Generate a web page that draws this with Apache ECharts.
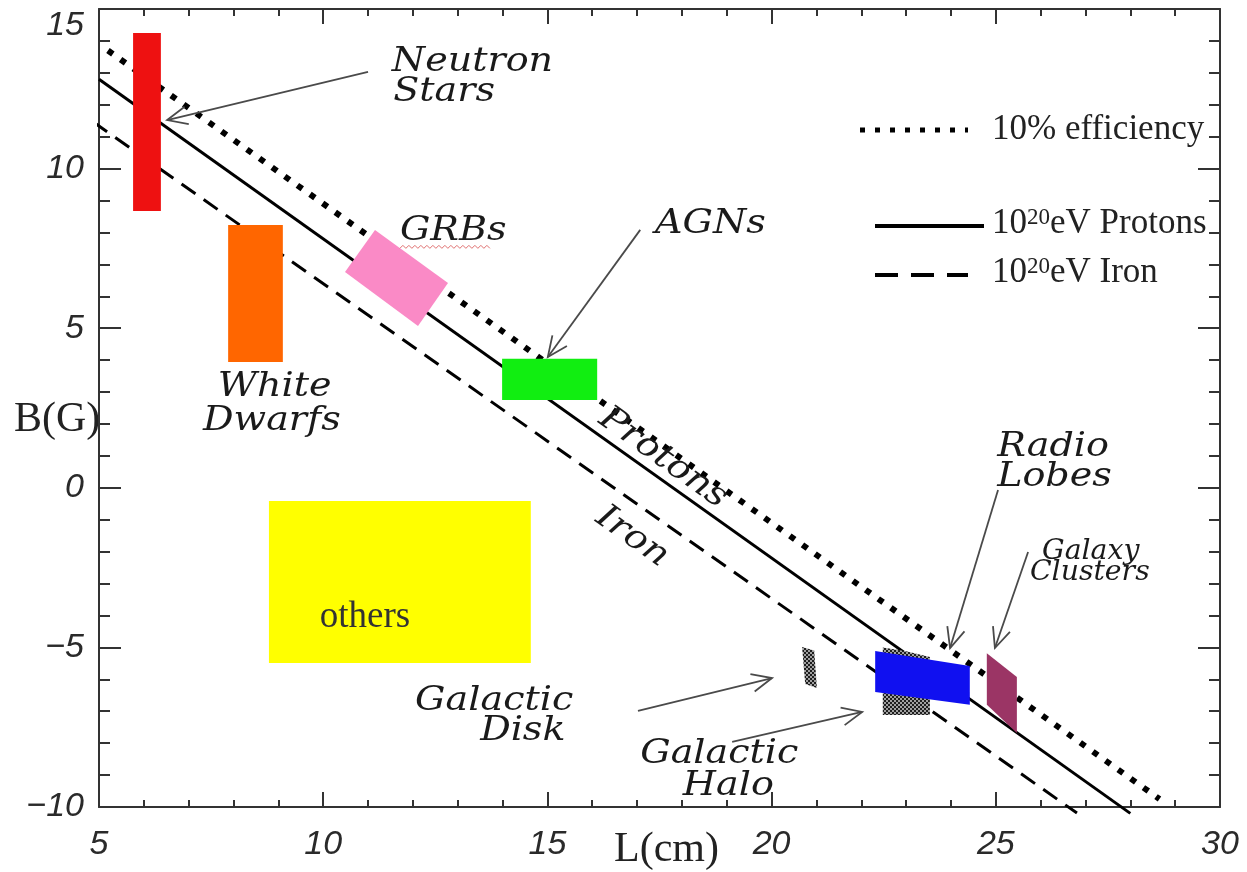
<!DOCTYPE html>
<html>
<head>
<meta charset="utf-8">
<script src="https://cdn.jsdelivr.net/npm/echarts@6/dist/echarts.min.js"></script>
<style>
html, body { margin: 0; padding: 0; background: #fff; }
#chart { width: 1247px; height: 872px; }
</style>
</head>
<body>
<div id="chart"></div>
<script>
// Axis ranges (log10 units)
const xRange = [5, 30];
const yRange = [-10, 15];
const majorStep = 5;

// Hillas-condition lines, end points as [L, B]
const efficiencyLine = [[5.2, 13.7], [28.65, -9.75]];
const protonLine = [[5.0, 12.8], [28.0, -10.2]];
const ironLine = [[4.87, 11.46], [26.81, -10.19]];

// Source classes and their regions (polygon corners as [L, B])
const regionNames = ['others', 'White Dwarfs', 'Neutron Stars', 'GRBs', 'AGNs',
  'Galactic Disk', 'Galactic Halo', 'Radio Lobes', 'Galaxy Clusters'];
const regionShapes = [
  [[8.79, -0.41], [14.63, -0.41], [14.63, -5.49], [8.79, -5.49]],
  [[7.88, 8.23], [9.10, 8.23], [9.10, 3.94], [7.88, 3.94]],
  [[5.76, 14.25], [6.38, 14.25], [6.38, 8.67], [5.76, 8.67]],
  [[11.155, 8.077], [12.783, 6.416], [12.114, 5.069], [10.486, 6.761]],
  [[13.99, 4.04], [16.11, 4.04], [16.11, 2.75], [13.99, 2.75]],
  [[20.68, -4.99], [20.95, -5.10], [21.01, -6.27], [20.75, -6.15]],
  [[22.48, -5.0], [23.0, -5.12], [23.53, -5.3], [23.53, -7.12], [22.48, -7.12]],
  [[22.31, -5.11], [24.42, -5.58], [24.42, -6.80], [22.31, -6.40]],
  [[24.80, -5.18], [25.47, -5.93], [25.47, -7.68], [24.80, -6.80]]
];

// Annotation arrows: [L0, B0, L1, B1] from text to tip
const arrowLines = [
  [11.00, 13.03, 6.52, 11.52],
  [17.07, 8.08, 15.01, 4.10],
  [25.05, -0.07, 23.98, -5.02],
  [25.72, -2.01, 24.98, -5.02],
  [17.02, -6.99, 20.01, -5.96],
  [19.12, -7.96, 22.02, -7.02]
];

// Class name labels and their anchors [L, B] (left edge, mid line)
const noteTexts = ['Neutron', 'Stars', 'White', 'Dwarfs', 'GRBs', 'AGNs', 'Radio', 'Lobes',
  'Galaxy', 'Clusters', 'Galactic', 'Disk', 'Galactic', 'Halo'];
const notePos = [[11.53, 13.34], [11.56, 12.40], [7.65, 3.16], [7.32, 2.09], [11.71, 8.05],
  [17.40, 8.26], [25.03, 1.28], [25.03, 0.34], [26.03, -2.01], [25.76, -2.67],
  [12.05, -6.68], [13.50, -7.62], [17.07, -8.34], [18.02, -9.34]];
const noteSmall = ['Galaxy', 'Clusters'];

// Labels running along the lines, centred at [L, B]
const lineTexts = ['Protons', 'Iron'];
const lineTextPos = [[17.58, 0.93], [16.89, -1.54]];

// Text inside the yellow box
const boxText = 'others';
const boxTextPos = [10.93, -4.05];

// Legend entries
const legendTexts = ['10% efficiency', 'Protons', 'Iron'];

const regionFill = (function () {
  const c = document.createElement('canvas');
  c.width = 4; c.height = 4;
  const g = c.getContext('2d');
  g.fillStyle = '#a0a0a0'; g.fillRect(0, 0, 4, 4);
  g.fillStyle = '#1e1e1e'; g.fillRect(0, 0, 2, 2); g.fillRect(2, 2, 2, 2);
  const hatch = { image: c, repeat: 'repeat' };
  return {
    'others': '#ffff00',
    'White Dwarfs': '#ff6600',
    'Neutron Stars': '#ee1111',
    'GRBs': '#fa8ac6',
    'AGNs': '#11ee11',
    'Galactic Disk': hatch,
    'Galactic Halo': hatch,
    'Radio Lobes': '#1010f0',
    'Galaxy Clusters': '#9b3565'
  };
})();

const HERSHEY = 'italic 34px "DejaVu Serif"';
const HERSHEY_SMALL = 'italic 27px "DejaVu Serif"';
const TIMES = '"Liberation Serif", "Times New Roman", serif';
const slopeAngle = -Math.atan((798 / 25) / (1121 / 25));

function tickLabel(v) {
  return v < 0 ? '\u2212' + Math.abs(v) : String(v);
}

function axisCommon(extra) {
  return Object.assign({
    type: 'value',
    interval: majorStep,
    splitLine: { show: false },
    axisLine: { show: true, onZero: false, lineStyle: { color: '#333', width: 2 } },
    axisTick: { show: true, inside: true, lineStyle: { color: '#333', width: 2 } },
    minorTick: { show: true, splitNumber: 5, lineStyle: { color: '#333', width: 2 } },
    minorSplitLine: { show: false }
  }, extra);
}

const labelFont = { fontFamily: '"Liberation Sans", Arial, sans-serif', fontStyle: 'italic', fontSize: 34, color: '#2a2a2a' };

const option = {
  animation: false,
  backgroundColor: '#fff',
  grid: { left: 99, right: 27, top: 9, bottom: 65, containLabel: false, outerBoundsMode: 'none' },
  xAxis: [
    axisCommon({ min: xRange[0], max: xRange[1], position: 'bottom',
      axisTick: { show: true, inside: true, length: 15, lineStyle: { color: '#333', width: 2 } },
      minorTick: { show: true, splitNumber: 5, length: 7, lineStyle: { color: '#333', width: 2 } },
      axisLabel: Object.assign({ margin: 21, formatter: tickLabel }, labelFont) }),
    axisCommon({ min: xRange[0], max: xRange[1], position: 'top',
      axisTick: { show: true, inside: true, length: 15, lineStyle: { color: '#333', width: 2 } },
      minorTick: { show: true, splitNumber: 5, length: 7, lineStyle: { color: '#333', width: 2 } },
      axisLabel: { show: false } })
  ],
  yAxis: [
    axisCommon({ min: yRange[0], max: yRange[1], position: 'left',
      axisTick: { show: true, inside: true, length: 22, lineStyle: { color: '#333', width: 2 } },
      minorTick: { show: true, splitNumber: 5, length: 11, lineStyle: { color: '#333', width: 2 } },
      axisLabel: Object.assign({ margin: 15, formatter: tickLabel, verticalAlignMaxLabel: 'top' }, labelFont) }),
    axisCommon({ min: yRange[0], max: yRange[1], position: 'right',
      axisTick: { show: true, inside: true, length: 22, lineStyle: { color: '#333', width: 2 } },
      minorTick: { show: true, splitNumber: 5, length: 11, lineStyle: { color: '#333', width: 2 } },
      axisLabel: { show: false } })
  ],
  series: [
    {
      name: '10% efficiency', type: 'line', data: efficiencyLine, showSymbol: false, clip: false, z: 2,
      lineStyle: { color: '#000', width: 6, type: [6, 9.5], cap: 'butt' }
    },
    {
      name: 'Protons', type: 'line', data: protonLine, showSymbol: false, clip: false, z: 2,
      lineStyle: { color: '#000', width: 3 }
    },
    {
      name: 'Iron', type: 'line', data: ironLine, showSymbol: false, clip: false, z: 2,
      lineStyle: { color: '#000', width: 3, type: [17, 10], cap: 'butt' }
    },
    {
      name: 'regions', type: 'custom', z: 3, clip: false,
      data: regionNames.map((n, i) => ({ name: n, value: [regionShapes[i][0][0], regionShapes[i][0][1], i] })),
      renderItem: function (params, api) {
        const i = api.value(2);
        const pts = regionShapes[i].map(p => api.coord(p));
        return { type: 'polygon', shape: { points: pts }, style: { fill: regionFill[regionNames[i]], stroke: null } };
      }
    },
    {
      name: 'arrows', type: 'custom', z: 4, clip: false,
      data: arrowLines,
      renderItem: function (params, api) {
        const a = api.coord([api.value(0), api.value(1)]);
        const b = api.coord([api.value(2), api.value(3)]);
        const ang = Math.atan2(a[1] - b[1], a[0] - b[0]);
        const len = 22, spread = 0.42;
        const h1 = [b[0] + len * Math.cos(ang + spread), b[1] + len * Math.sin(ang + spread)];
        const h2 = [b[0] + len * Math.cos(ang - spread), b[1] + len * Math.sin(ang - spread)];
        const st = { stroke: '#4a4a4a', lineWidth: 1.8, fill: null };
        return {
          type: 'group', children: [
            { type: 'polyline', shape: { points: [a, b] }, style: st },
            { type: 'polyline', shape: { points: [h1, b, h2] }, style: st }
          ]
        };
      }
    },
    {
      name: 'notes', type: 'custom', z: 5, clip: false,
      data: notePos.map((p, i) => [p[0], p[1], i]),
      renderItem: function (params, api) {
        const i = api.value(2);
        const p = api.coord([api.value(0), api.value(1)]);
        const small = noteSmall.indexOf(noteTexts[i]) >= 0;
        return {
          type: 'text', x: p[0], y: p[1], scaleX: small ? 1.05 : 1.12,
          style: { text: noteTexts[i], x: 0, y: 0, font: small ? HERSHEY_SMALL : HERSHEY,
            fill: '#1a1a1a', align: 'left', verticalAlign: 'middle' }
        };
      }
    },
    {
      name: 'lineNotes', type: 'custom', z: 5, clip: false,
      data: lineTextPos.map((p, i) => [p[0], p[1], i]),
      renderItem: function (params, api) {
        const i = api.value(2);
        const p = api.coord([api.value(0), api.value(1)]);
        return {
          type: 'text', x: p[0], y: p[1], rotation: slopeAngle, scaleX: 1.12,
          style: { text: lineTexts[i], x: 0, y: 0, font: HERSHEY, fill: '#1a1a1a', align: 'center', verticalAlign: 'middle' }
        };
      }
    },
    {
      name: 'boxNote', type: 'custom', z: 5, clip: false,
      data: [[boxTextPos[0], boxTextPos[1]]],
      renderItem: function (params, api) {
        const p = api.coord([api.value(0), api.value(1)]);
        return {
          type: 'text', x: p[0], y: p[1],
          style: { text: boxText, x: 0, y: 0, font: '37px ' + TIMES, fill: '#333', align: 'center', verticalAlign: 'middle' }
        };
      }
    },
    {
      name: 'GRBs underline', type: 'custom', z: 5, clip: false,
      data: [[notePos[4][0], notePos[4][1]]],
      renderItem: function (params, api) {
        const p = api.coord([api.value(0), api.value(1)]);
        const pts = [];
        for (let k = 0; k <= 30; k++) pts.push([p[0] + k * 3, p[1] + 16 + (k % 2 ? -1.5 : 1.5)]);
        return { type: 'polyline', shape: { points: pts }, style: { stroke: '#e07070', lineWidth: 1, fill: null } };
      }
    }
  ],
  graphic: [
    // axis titles
    { type: 'text', left: 614, top: 829, style: { text: 'L(cm)', font: '42px ' + TIMES, fill: '#222' } },
    { type: 'text', left: 14, top: 399, style: { text: 'B(G)', font: '42px ' + TIMES, fill: '#222' } },
    // legend
    { type: 'line', shape: { x1: 860, y1: 130, x2: 968, y2: 130 },
      style: { stroke: '#000', lineWidth: 5, lineDash: [5, 10], lineCap: 'butt' } },
    { type: 'text', left: 992, top: 112, style: { text: legendTexts[0], font: '35px ' + TIMES, fill: '#222' } },
    { type: 'line', shape: { x1: 875, y1: 226, x2: 984, y2: 226 },
      style: { stroke: '#000', lineWidth: 4 } },
    { type: 'text', left: 992, top: 206, style: {
      text: '{b|10}{s|20}{b|eV ' + legendTexts[1] + '}',
      rich: { b: { font: '35px ' + TIMES, fill: '#222', verticalAlign: 'bottom' },
              s: { font: '23px ' + TIMES, fill: '#222', verticalAlign: 'top' } } } },
    { type: 'line', shape: { x1: 875, y1: 275, x2: 968, y2: 275 },
      style: { stroke: '#000', lineWidth: 4, lineDash: [23, 13], lineCap: 'butt' } },
    { type: 'text', left: 992, top: 255, style: {
      text: '{b|10}{s|20}{b|eV ' + legendTexts[2] + '}',
      rich: { b: { font: '35px ' + TIMES, fill: '#222', verticalAlign: 'bottom' },
              s: { font: '23px ' + TIMES, fill: '#222', verticalAlign: 'top' } } } }
  ]
};

const chart = echarts.init(document.getElementById('chart'));
chart.setOption(option);
</script>
</body>
</html>
